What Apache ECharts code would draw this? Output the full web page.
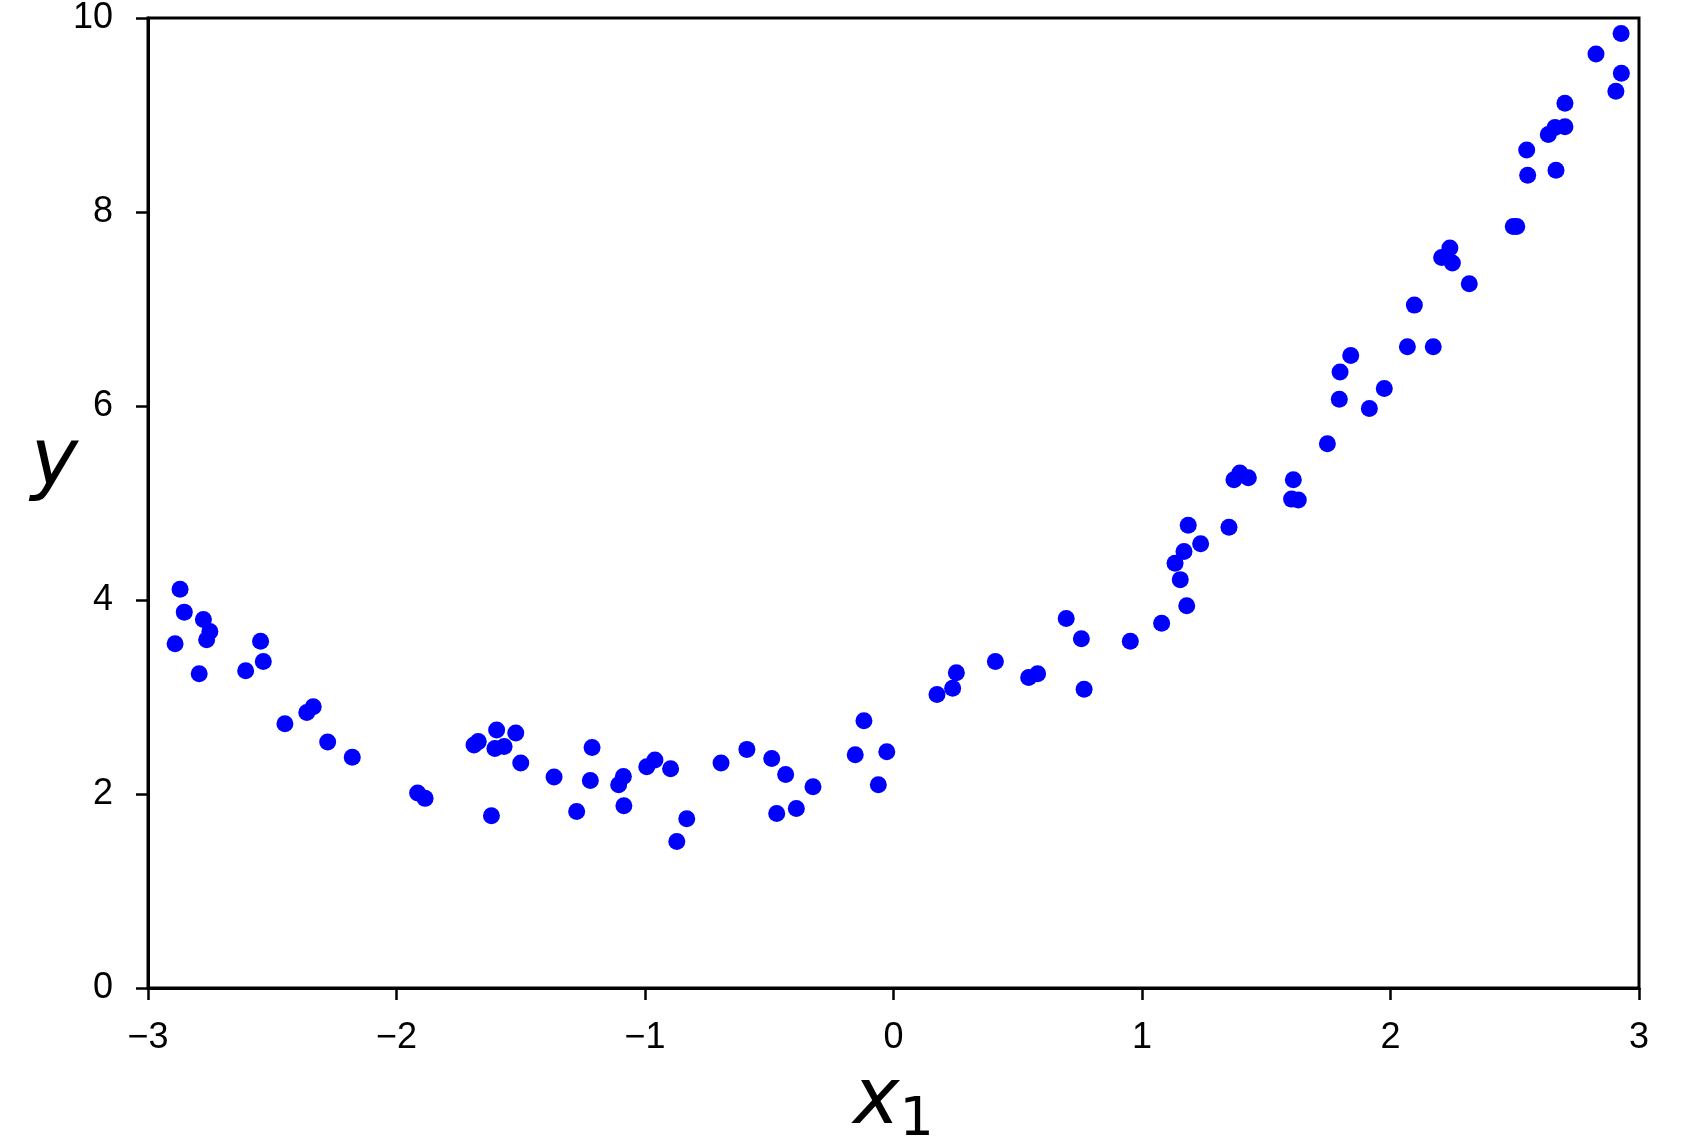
<!DOCTYPE html>
<html>
<head>
<meta charset="utf-8">
<script src="https://cdn.jsdelivr.net/npm/echarts@6/dist/echarts.min.js"></script>
<style>
  html, body { margin: 0; padding: 0; background: #ffffff; overflow: hidden; }
  #chart { width: 1708px; height: 1148px; }
</style>
</head>
<body>
<div id="chart"></div>
<script>
// x-values of the scatter points
const xValues = [
  -2.871, -2.891, -2.854, -2.777, -2.751, -2.764, -2.794, -2.547, -2.536, -2.607,
  -2.449, -2.361, -2.335, -2.277, -2.178, -1.915, -1.885, -1.618, -1.688, -1.671,
  -1.597, -1.604, -1.567, -1.520, -1.500, -1.366, -1.275, -1.213, -1.220, -1.106,
  -1.087, -1.085, -0.993, -0.960, -0.897, -0.872, -0.832, -0.694, -0.590, -0.490,
  -0.470, -0.434, -0.391, -0.324, -0.154, -0.119, -0.061, -0.027, 0.175, 0.238,
  0.253, 0.410, 0.544, 0.580, 0.695, 0.756, 0.767, 0.953, 1.079, 1.133,
  1.169, 1.154, 1.186, 1.180, 1.236, 1.350, 1.370, 1.394, 1.428, 1.609,
  1.602, 1.629, 1.746, 1.797, 1.794, 1.840, 1.915, 1.975, 2.068, 2.096,
  2.172, 2.206, 2.239, 2.249, 2.317, 2.494, 2.508, 2.548, 2.552, 2.635,
  2.666, 2.662, 2.702, 2.702, 2.827, 2.907, 2.928, 2.929
];
// y-values of the scatter points
const yValues = [
  4.11, 3.55, 3.875, 3.80, 3.675, 3.59, 3.24, 3.575, 3.365, 3.27,
  2.725, 2.84, 2.90, 2.535, 2.38, 2.01, 1.955, 1.775, 2.505, 2.54,
  2.66, 2.47, 2.49, 2.63, 2.32, 2.175, 1.82, 2.48, 2.14, 2.095,
  2.18, 1.88, 2.28, 2.35, 2.26, 1.51, 1.745, 2.32, 2.46, 2.365,
  1.80, 2.20, 1.85, 2.075, 2.405, 2.755, 2.095, 2.435, 3.025, 3.09,
  3.25, 3.365, 3.20, 3.24, 3.81, 3.60, 3.08, 3.575, 3.76, 4.38,
  4.50, 4.21, 4.77, 3.94, 4.58, 4.75, 5.24, 5.31, 5.26, 5.24,
  5.04, 5.03, 5.61, 6.35, 6.07, 6.52, 5.975, 6.18, 6.61, 7.04,
  6.61, 7.53, 7.63, 7.475, 7.26, 7.85, 7.85, 8.64, 8.38, 8.80,
  8.43, 8.87, 8.88, 9.12, 9.63, 9.245, 9.84, 9.43
];
// axis ranges and tick steps
const xRange = [-3, 3];
const xStep = 1;
const yRange = [0, 10];
const yStep = 2;

const points = xValues.map((x, i) => [x, yValues[i]]);

const chart = echarts.init(document.getElementById('chart'), null, { renderer: 'canvas' });

const tickFont = {
  color: '#000000',
  fontFamily: 'Liberation Sans',
  fontSize: 36
};
const fmt = v => String(v).replace('-', '\u2212');

chart.setOption({
  animation: false,
  backgroundColor: '#ffffff',
  grid: {
    left: 148, right: 69, top: 18, bottom: 160,
    containLabel: false,
    outerBoundsMode: 'none',
    show: true,
    borderColor: '#000000',
    borderWidth: 3,
    backgroundColor: 'transparent'
  },
  xAxis: {
    type: 'value',
    min: xRange[0], max: xRange[1], interval: xStep,
    name: '{x|x}{s|1}',
    nameLocation: 'middle',
    nameGap: 76,
    nameMoveOverlap: false,
    nameTextStyle: {
      rich: {
        x: { fontFamily: 'DejaVu Sans', fontStyle: 'italic', fontSize: 78, lineHeight: 84, verticalAlign: 'top', color: '#000' },
        s: { fontFamily: 'DejaVu Sans', fontSize: 54, lineHeight: 54, verticalAlign: 'bottom', color: '#000' }
      }
    },
    axisLine: { show: true, onZero: false, lineStyle: { color: '#000000', width: 3 } },
    axisTick: { show: true, inside: false, length: 12, lineStyle: { color: '#000000', width: 2.5 } },
    axisLabel: Object.assign({ margin: 32, formatter: fmt }, tickFont),
    splitLine: { show: false }
  },
  yAxis: {
    type: 'value',
    min: yRange[0], max: yRange[1], interval: yStep,
    name: '{y|y}',
    nameLocation: 'middle',
    nameRotate: 0,
    nameGap: 70,
    nameMoveOverlap: false,
    nameTextStyle: {
      rich: {
        y: { fontFamily: 'DejaVu Sans', fontStyle: 'italic', fontSize: 80, lineHeight: 160, verticalAlign: 'top', color: '#000' }
      }
    },
    axisLine: { show: true, onZero: false, lineStyle: { color: '#000000', width: 3 } },
    axisTick: { show: true, inside: false, length: 12, lineStyle: { color: '#000000', width: 2.5 } },
    axisLabel: Object.assign({ margin: 35, formatter: fmt }, tickFont),
    splitLine: { show: false }
  },
  series: [{
    type: 'scatter',
    data: points,
    symbol: 'circle',
    symbolSize: 17,
    itemStyle: { color: '#0000ff', opacity: 1 },
    silent: true
  }]
});
</script>
</body>
</html>
